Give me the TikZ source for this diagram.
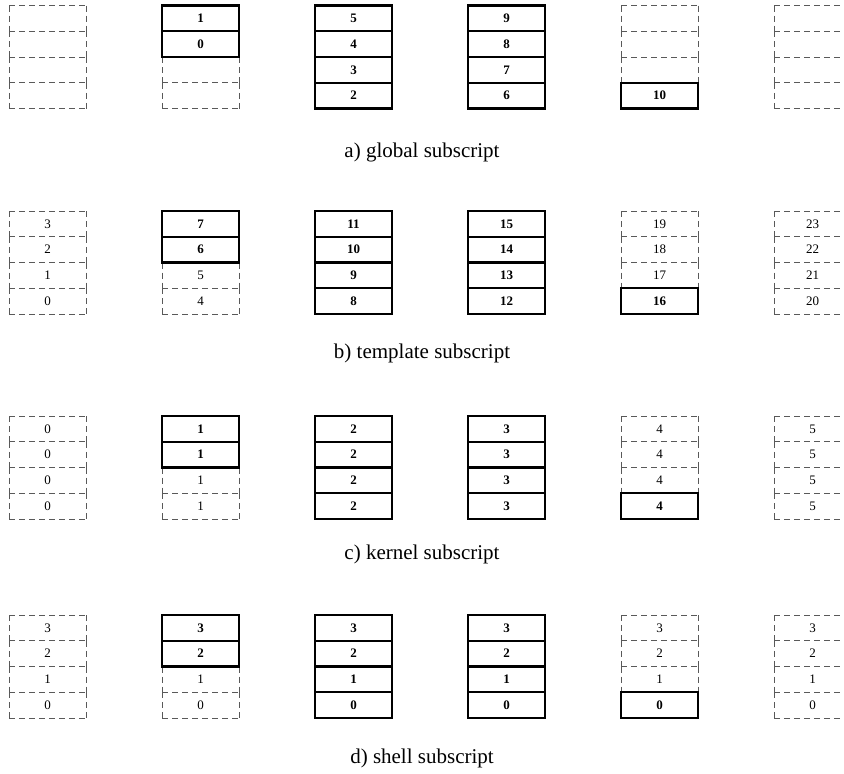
\documentclass[tikz,border=0pt]{standalone}
\usepackage{fontspec}
\setmainfont{Liberation Serif}
\tikzset{
  cellbase/.style={rectangle, inner sep=0pt, outer sep=0pt, minimum width=77pt, minimum height=25.75pt, anchor=north west},
  dcell/.style={cellbase, font=\fontsize{13}{13}\selectfont},
  dline/.style={draw=black!65, line width=1pt, dash pattern=on 6pt off 4pt},
  bcell/.style={cellbase, draw=black, line width=2.4pt, font=\fontsize{13}{13}\selectfont\bfseries},
  caplabel/.style={anchor=base, inner sep=0pt, font=\fontsize{21}{25}\selectfont}
}
\begin{document}
\begin{tikzpicture}[x=1pt,y=-1pt]
\useasboundingbox (0,0) rectangle (844,774);
\clip (0,0) rectangle (844,774);
\foreach \pn/\top/\capy/\captext in {1/5.5/157/{a) global subscript}, 2/211/358/{b) template subscript}, 3/416/559/{c) kernel subscript}, 4/615/763/{d) shell subscript}}{
  \foreach \pass in {0,1}{
    \foreach \c in {1,...,6}{
      \foreach \r in {1,...,4}{
        \pgfmathtruncatemacro\isb{(\c==3)||(\c==4)||((\c==2)&&(\r<3))||((\c==5)&&(\r==4))}
        \ifnum\isb=\pass
          \pgfmathtruncatemacro\tm{4*(\c-1)+4-\r}
          \ifcase\pn\or
            \ifnum\isb=1 \pgfmathtruncatemacro\lab{\tm-6}\else\def\lab{}\fi
          \or \let\lab\tm
          \or \pgfmathtruncatemacro\lab{\c-1}
          \or \pgfmathtruncatemacro\lab{4-\r}
          \fi
          \pgfmathsetmacro\xx{9+153*(\c-1)}
          \pgfmathsetmacro\yy{\top+25.75*(\r-1)}
          \ifnum\isb=1
            \node[bcell] (p\pn-\c-\r) at (\xx,\yy) {\lab};
          \else
            \node[dcell] (p\pn-\c-\r) at (\xx,\yy) {\lab};
            \draw[dline] (p\pn-\c-\r.north west) -- (p\pn-\c-\r.north east);
            \draw[dline] (p\pn-\c-\r.north west) -- (p\pn-\c-\r.south west);
            \draw[dline] (p\pn-\c-\r.north east) -- (p\pn-\c-\r.south east);
            \ifnum\r=4
              \draw[dline] (p\pn-\c-\r.south west) -- (p\pn-\c-\r.south east);
            \fi
          \fi
        \fi
      }
    }
  }
  \node[caplabel] (cap\pn) at (422,\capy) {\captext};
}
\end{tikzpicture}
\end{document}
